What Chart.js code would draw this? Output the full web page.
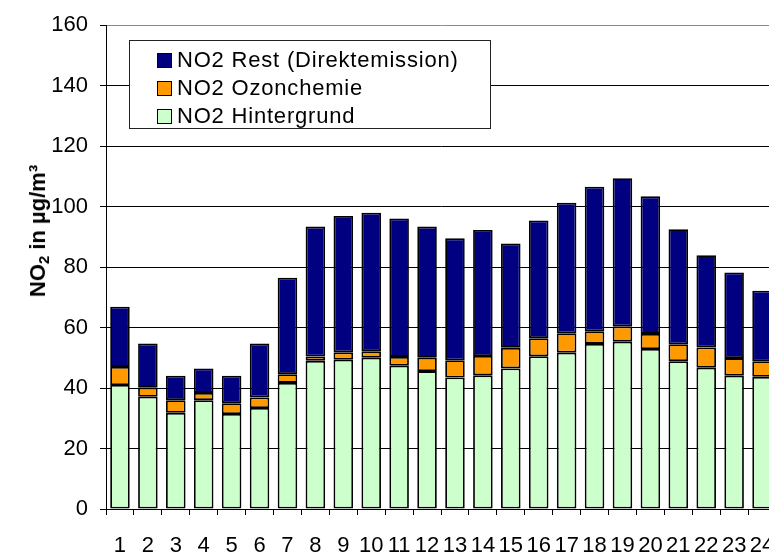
<!DOCTYPE html>
<html>
<head>
<meta charset="utf-8">
<script src="https://cdn.jsdelivr.net/npm/chart.js@4.4.0/dist/chart.umd.min.js"></script>
<style>
    html, body { margin: 0; padding: 0; background: #fff; overflow: hidden; width: 769px; height: 557px; }
    #wrap { position: relative; width: 769px; height: 557px; overflow: hidden; }
    #chart { position: absolute; left: 0; top: 0; }
    #yTitle {
        position: absolute; left: 38px; top: 231px;
        transform: translate(-50%, -50%) rotate(-90deg);
        font: bold 22px Arial, 'Liberation Sans', sans-serif; white-space: nowrap; color: #000;
    }
    #yTitle sub { font-size: 15px; vertical-align: -4px; line-height: 0; }
    #legend {
        position: absolute; left: 129px; top: 40px; width: 362px; height: 89px;
        background: #fff; border: 1px solid #222; box-sizing: border-box;
        font: 22px Arial, 'Liberation Sans', sans-serif; letter-spacing: 0.8px; color: #000;
    }
    .item { position: absolute; left: 27px; height: 28px; line-height: 28px; white-space: nowrap; }
    .item i { position: absolute; left: 0; top: 7px; width: 13px; height: 13px; border: 1.5px solid #000; }
    .item span { position: absolute; left: 20px; top: 0; }
</style>
</head>
<body>
<div id="wrap">
    <canvas id="chart" width="800" height="557"></canvas>
    <div id="yTitle">NO<sub>2</sub> in µg/m³</div>
    <div id="legend"></div>
</div>
<script>
const hours = ['1', '2', '3', '4', '5', '6', '7', '8', '9', '10', '11', '12',
    '13', '14', '15', '16', '17', '18', '19', '20', '21', '22', '23', '24'];
const hintergrund = [41.0, 37.1, 31.8, 36.0, 31.4, 33.4, 41.7, 49.0, 49.4, 50.0, 47.4, 45.6,
    43.5, 44.2, 46.5, 50.5, 51.7, 54.6, 55.3, 52.9, 48.9, 46.7, 44.1, 43.7];
const ozonchemie = [6.0, 3.0, 4.2, 2.4, 3.6, 3.5, 2.9, 1.4, 2.4, 2.2, 2.9, 4.4,
    5.7, 6.4, 6.8, 6.0, 6.4, 4.2, 5.1, 5.0, 5.6, 6.7, 5.8, 5.2];
const rest = [19.9, 14.6, 8.1, 8.1, 9.1, 17.8, 31.9, 43.0, 45.1, 45.8, 45.8, 43.4,
    40.3, 41.7, 34.5, 38.9, 43.2, 47.8, 49.0, 45.5, 38.0, 30.5, 28.3, 23.3];
const yTicks = [0, 20, 40, 60, 80, 100, 120, 140, 160];

const series = [
    { label: 'NO2 Hintergrund', data: hintergrund, color: '#ccffcc' },
    { label: 'NO2 Ozonchemie', data: ozonchemie, color: '#ff9900' },
    { label: 'NO2 Rest (Direktemission)', data: rest, color: '#000080' },
];

// legend box sits inside the plot, top entry is the top of the stack
document.getElementById('legend').innerHTML = [...series].reverse().map((s, i) => `
    <div class="item" style="top:${5 + i * 28}px"><i style="background:${s.color}"></i><span>${s.label}</span></div>
`).join('');

const tickFont = { family: "Arial, 'Liberation Sans', sans-serif", size: 22 };

new Chart(document.getElementById('chart'), {
    type: 'bar',
    data: {
        labels: hours,
        datasets: series.map(s => ({
            label: s.label,
            data: s.data,
            backgroundColor: s.color,
            borderColor: '#000',
            borderWidth: 1.8,
            borderSkipped: false,
            barPercentage: 0.7,
            categoryPercentage: 1,
        }))
    },
    options: {
        responsive: false, animation: false,
        layout: { padding: { top: 22, right: 24, bottom: 0, left: 0 } },
        plugins: { legend: { display: false }, tooltip: { enabled: false } },
        scales: {
            x: {
                stacked: true,
                afterFit: s => { s.height = 48; },
                grid: { offset: true, drawOnChartArea: false, color: '#000', tickLength: 6 },
                border: { color: '#000', width: 1 },
                ticks: {
                    color: '#000', padding: 18, maxRotation: 0, autoSkip: false,
                    font: { family: "'Liberation Sans Narrow', 'Arial Narrow', Arial, sans-serif", size: 22 }
                }
            },
            y: {
                stacked: true, min: 0, max: 160,
                afterFit: s => { s.width = 106; },
                afterBuildTicks: s => { s.ticks = yTicks.map(v => ({ value: v })); },
                grid: {
                    color: c => c.tick && c.tick.value === 160 ? '#8a8a8a' : '#000',
                    tickColor: '#000', tickLength: 6, lineWidth: 1
                },
                border: { color: '#000', width: 1 },
                ticks: { color: '#000', padding: 12, font: tickFont }
            }
        }
    }
});
</script>
</body>
</html>
